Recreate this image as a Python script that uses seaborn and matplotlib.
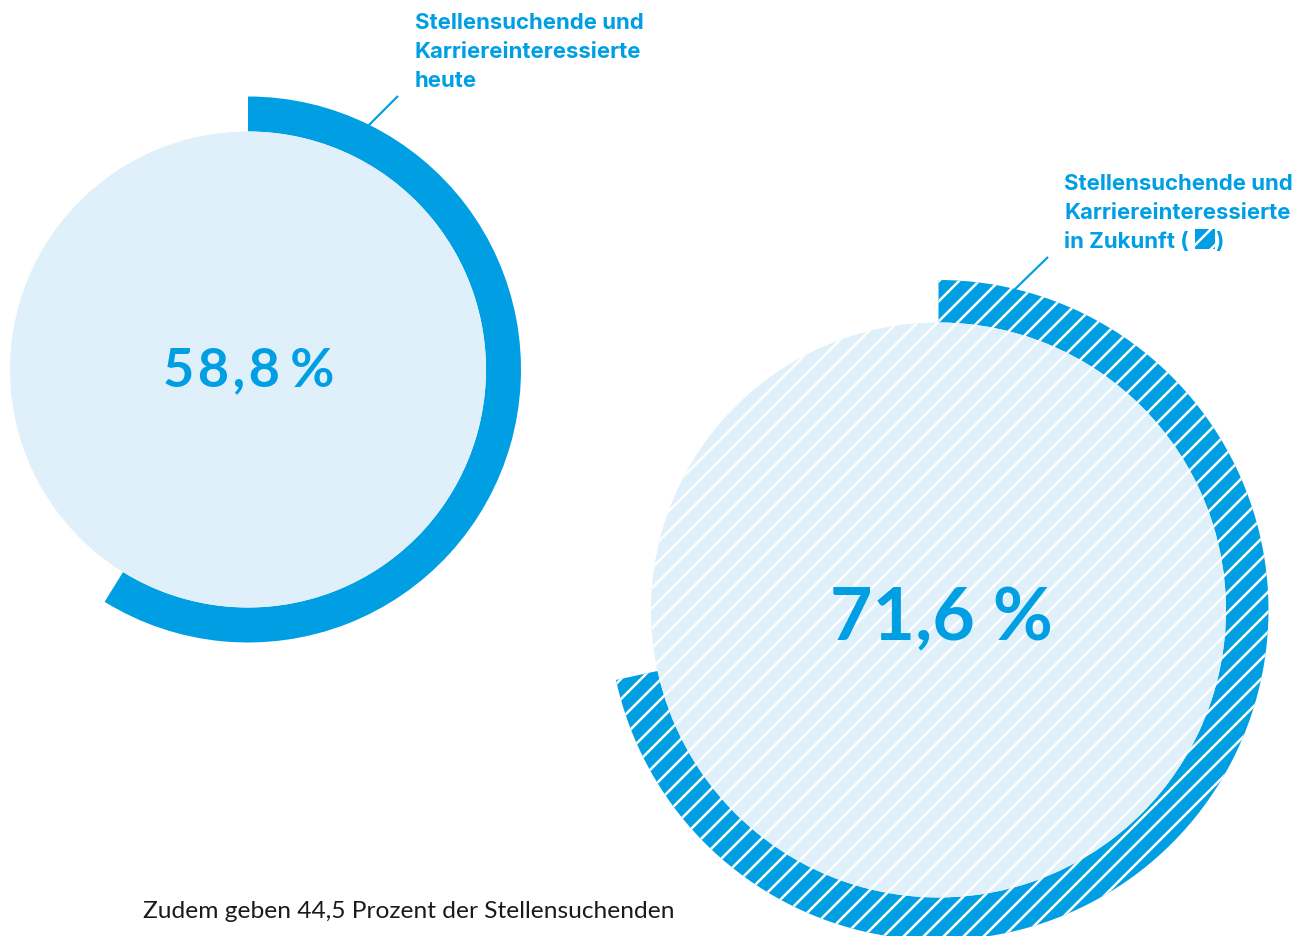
import matplotlib
matplotlib.use("Agg")
import matplotlib.pyplot as plt
import seaborn as sns
from matplotlib.patches import Wedge, Circle, Rectangle

sns.set_theme(style="white")
plt.rcParams['font.family'] = ['Lato', 'DejaVu Sans']
plt.rcParams['hatch.linewidth'] = 1.5

# --- data ---
shares = [58.8, 71.6]
share_labels = ["5\u200a8\u200a,\u200a8\u2009\u200a%", "71,6 %"]
series_labels = [["Stellensuchende und", "Karriereinteressierte", "heute"],
                 ["Stellensuchende und", "Karriereinteressierte", "in Zukunft ("]]
footnote = "Zudem geben 44,5 Prozent der Stellensuchenden"

BLUE = "#009FE3"
LIGHT = "#DFF0FB"
W, H = 1313, 936
DPI = 120

fig = plt.figure(figsize=(W / DPI, H / DPI), dpi=DPI)
ax = fig.add_axes([0, 0, 1, 1])
ax.set_xlim(0, W)
ax.set_ylim(0, H)
ax.axis("off")

# geometry (pixel layout)
centers = [(248, H - 369.5), (938.5, H - 610)]
r_inner = [238, 287.5]
r_outer = [273, 330]
hatched = [False, True]

for val, c, ri, ro, hat in zip(shares, centers, r_inner, r_outer, hatched):
    theta1 = 90 - 360 * val / 100
    kw = dict(hatch="//", edgecolor="white", linewidth=0) if hat else dict(linewidth=0)
    ax.add_patch(Wedge(c, ro, theta1, 90, width=ro - ri, facecolor=BLUE, **kw))
    ax.add_patch(Circle(c, ri, facecolor=LIGHT, **kw))

# value labels
num_pos = [(248.5, 386), (941, 640)]
num_size = [32.5, 44]
for lab, (nx, ny), fs in zip(share_labels, num_pos, num_size):
    ax.text(nx, H - ny, lab, ha="center", va="baseline", fontsize=fs,
            fontweight="bold", color=BLUE, family=['Lato', 'DejaVu Sans'])

# leader lines
ax.plot([368, 398], [H - 126, H - 96], color=BLUE, lw=1.3, solid_capstyle="butt")
ax.plot([1012, 1048], [H - 292, H - 257], color=BLUE, lw=1.3, solid_capstyle="butt")

# series labels
label_pos = [(415, 29), (1064, 190)]
line_gap = 29
lab_font = ['Inter', 'DejaVu Sans']
fig.canvas.draw()
renderer = fig.canvas.get_renderer()
for lines, (lx, ly) in zip(series_labels, label_pos):
    last = None
    for i, t in enumerate(lines):
        last = ax.text(lx, H - (ly + i * line_gap), t, ha="left", va="baseline",
                       fontsize=13.3, fontweight="bold", color=BLUE, family=lab_font)
# legend swatch in second label
bb = last.get_window_extent(renderer=renderer)
inv = ax.transData.inverted()
(x0, y0), (x1, y1) = inv.transform([[bb.x0, bb.y0], [bb.x1, bb.y1]])
base = H - (label_pos[1][1] + 2 * line_gap)
sq = 20
ax.add_patch(Rectangle((x1 + 6, base - 1), sq, sq, facecolor=BLUE,
                       edgecolor="white", hatch="//", linewidth=0))
ax.text(x1 + 7 + sq, base, ")", ha="left", va="baseline", fontsize=13.3,
        fontweight="bold", color=BLUE, family=lab_font)

# footnote
ax.text(143, H - 918, footnote, ha="left", va="baseline", fontsize=14.7,
        color="#1a1a1a")

fig.savefig("out.png", dpi=DPI)
